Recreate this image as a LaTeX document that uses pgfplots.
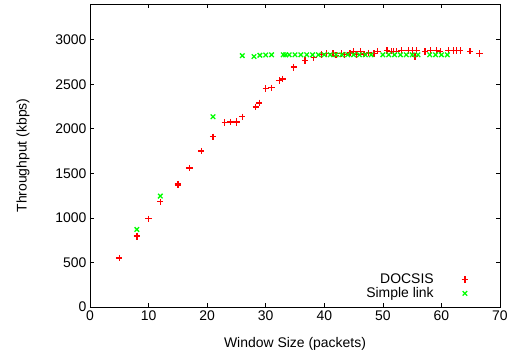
\documentclass[border=0pt]{standalone}
\usepackage{fontspec}
\setmainfont{Liberation Sans}
\usepackage{pgfplots}
\pgfplotsset{compat=1.18}
\begin{document}
\begin{tikzpicture}
\begin{axis}[
  scale only axis,
  width=410bp, height=303bp,
  xmin=0, xmax=70, ymin=0, ymax=3400,
  xtick={0,10,...,70}, ytick={0,500,...,3000},
  /pgf/number format/assume math mode=true,
  /pgf/number format/set thousands separator={},
  tick label style={font=\fontsize{14}{16}\selectfont},
  label style={font=\fontsize{14}{16}\selectfont},
  xlabel={Window Size (packets)},
  ylabel={Throughput (kbps)},
  xlabel style={yshift=-10bp},
  ylabel style={yshift=19bp},
  major tick length=4.5bp,
  tick style={black, line width=0.6bp},
  axis line style={black, line width=0.9bp},
  legend style={draw=none, fill=none, font=\fontsize{14}{16}\selectfont,
    at={(0.93,0.012)}, anchor=south east, row sep=-1.5pt},
  legend cell align=right,
  legend plot pos=right,
]
\addplot[only marks, mark=+, mark size=3.2bp, draw=red, mark options={draw=red, line width=1.3bp}] coordinates {
(5,550) (8,790) (8,800) (10,990) (12,1180) (15,1370) (15,1380) (17,1560) (19,1750) (21,1910)
(23,2070) (24,2075) (25,2080) (25,2070) (26,2135) (28.3,2245) (28.9,2290) (30,2450) (31,2460)
(32.3,2540) (32.9,2560) (34.8,2685) (34.8,2695) (36.7,2765) (38.2,2800)
(40.4,2843) (41.5,2843) (42.9,2843) (44.4,2850) (45,2865) (46.2,2865) (47.6,2850) (49.1,2870)
(50.7,2876) (51.5,2870) (52.3,2870) (51.8,2865) (53.2,2876) (54.4,2876) (55.1,2876) (55.8,2876)
(55.5,2813) (57.2,2865) (58.1,2876) (59.2,2876) (59.8,2865) (61.2,2876) (62.1,2876) (62.6,2876)
(63.2,2876) (64.9,2870) (66.5,2843)
(39.5,2835) (43.5,2830) (46.8,2838) (48.5,2845) (42,2825) (45.5,2832)
};
\addlegendentry{DOCSIS\hspace*{26bp}}
\addplot[only marks, mark=x, mark size=3.2bp, draw=green, mark options={draw=green, line width=1.3bp}] coordinates {
(8,870) (12,1245) (21,2135)
(26,2820) (28,2810) (29,2825) (30,2828) (31,2830) (33,2830) (33.4,2830) (34,2830) (35,2830)
(36,2830) (37,2830) (38,2830) (39,2830) (40,2830) (41,2830) (42,2830) (43,2830) (44,2830)
(45,2830) (46,2830) (47,2830) (48,2830) (50,2830) (51,2830) (52,2830) (53,2830) (54,2830)
(55,2830) (56,2830) (58,2830) (59,2830) (60,2830) (61,2830)
};
\addlegendentry{Simple link\hspace*{26bp}}
\end{axis}
\path (-90bp,-49bp) rectangle (430bp,307bp);
\end{tikzpicture}
\end{document}
